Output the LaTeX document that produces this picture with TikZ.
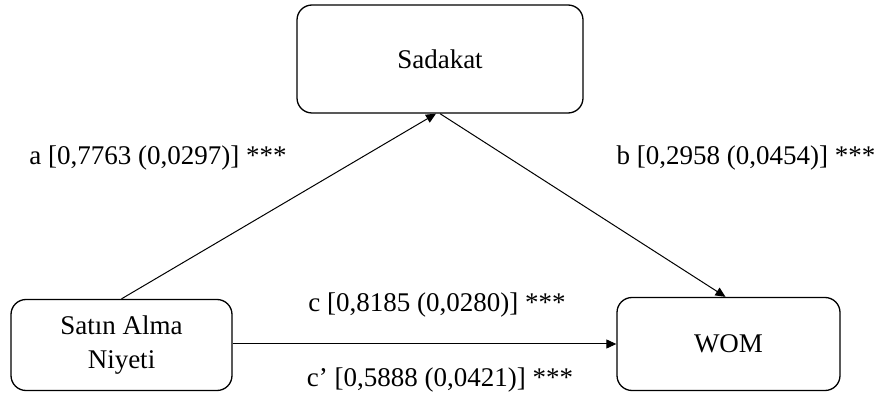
\documentclass[tikz,border=0pt]{standalone}
\usepackage{fontspec}
\setmainfont{Liberation Serif}
\usetikzlibrary{arrows.meta}

\begin{document}
\begin{tikzpicture}[x=1pt, y=-1pt, line width=1.3pt,
		every node/.style={font=\fontsize{27}{34}\selectfont},
		box/.style={draw, rounded corners=15pt, align=center, inner sep=0pt},
		arr/.style={-{Triangle[length=10pt,width=9pt]}, line width=1pt}]
		\useasboundingbox (0,0) rectangle (887,398);

		% Boxes
		\node[box, minimum width=286pt, minimum height=108pt] (sadakat) at (440,59) {Sadakat};
		\node[box, minimum width=221pt, minimum height=91pt] (niyet) at (121.5,345) {Satın Alma\\Niyeti};
		\node[box, minimum width=223pt, minimum height=93pt] (wom) at (728.5,344) {WOM};

		% Paths
		\draw[arr] (niyet.north) -- ([xshift=-4pt]sadakat.south);
		\draw[arr] (sadakat.south) -- ([xshift=-3pt]wom.north);
		\draw[arr] (niyet.east |- wom.west) -- (wom.west);

		% Coefficients
		\node (coefa) at (158,158) {a [0,7763 (0,0297)] ***};
		\node (coefb) at (746,158) {b [0,2958 (0,0454)] ***};
		\node (coefc) at (437,305) {c [0,8185 (0,0280)] ***};
		\node (coefcp) at (440,380) {c’ [0,5888 (0,0421)] ***};
	\end{tikzpicture}
\end{document}
